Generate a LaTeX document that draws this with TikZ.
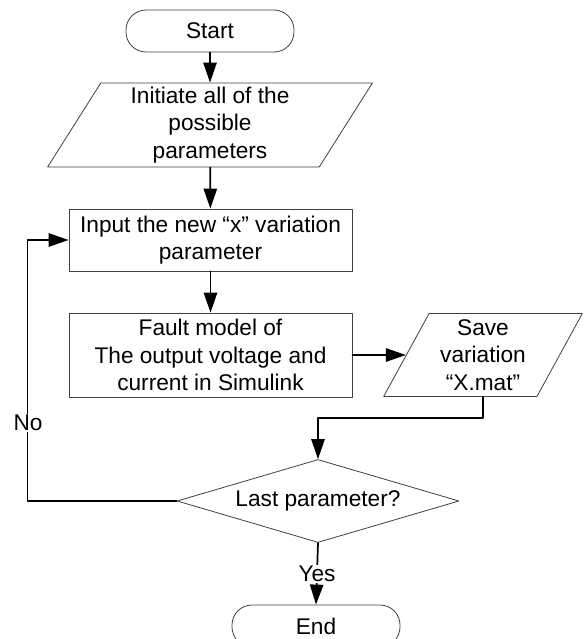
\documentclass[tikz,border=0pt]{standalone}
\usepackage{fontspec}
\setmainfont{Liberation Sans}
\usetikzlibrary{shapes.geometric,arrows.meta}
\begin{document}
\begin{tikzpicture}[x=0.75pt,y=-0.75pt,line cap=round,line join=round,>={Triangle[length=15pt,width=10pt]},
	font=\fontsize{17pt}{20.5pt}\selectfont,
	terminal/.style={draw=black!75,line width=0.6pt,rectangle,rounded corners=15pt,minimum width=126pt,minimum height=31.5pt,inner sep=0pt},
	process/.style={draw=black!75,line width=0.6pt,rectangle,align=center,minimum width=212.25pt,inner sep=0pt},
	io/.style={draw=black!75,line width=0.6pt,trapezium,trapezium left angle=63,trapezium right angle=117,trapezium stretches=true,align=center,inner sep=0pt},
	decision/.style={draw=black!75,line width=0.6pt,diamond,aspect=3.4,minimum width=211.5pt,minimum height=62.25pt,inner sep=0pt},
	flow/.style={->,line width=1.3pt,color=black}]
		\useasboundingbox (0,0) rectangle (587,639);
		\node[terminal] (start) at (210,31) {Start};
		\node[io,minimum width=243.75pt,minimum height=63pt] (init) at (210,125) {Initiate all of the\\possible\\parameters};
		\node[process,minimum height=46.5pt] (input) at (210.5,240) {Input the new “x” variation\\parameter};
		\node[process,minimum height=63pt] (fault) at (210.5,355) {Fault model of\\The output voltage and\\current in Simulink};
		\node[io,minimum width=149.25pt,minimum height=62.25pt] (save) at (483,355) {Save\\variation\\“X.mat”};
		\node[decision] (last) at (318,501) {Last parameter?};
		\node[terminal] (end) at (316,626) {End};
		\draw[flow] (start) -- (init);
		\draw[flow] (init) -- (input);
		\draw[flow] (input) -- (fault);
		\draw[flow] (fault.east) -- (save.west);
		\draw[flow] (save.south) -- ++(0,21) -| (last.north);
		\draw[flow] (last.west) -- ++(-149,0) |- (input.west);
		\node[fill=white,inner sep=1pt] (no) at (28,423) {No};
		\draw[flow] (last.south) -- node[fill=white,inner sep=1pt] (yes) {Yes} (end.north);
	\end{tikzpicture}
\end{document}
